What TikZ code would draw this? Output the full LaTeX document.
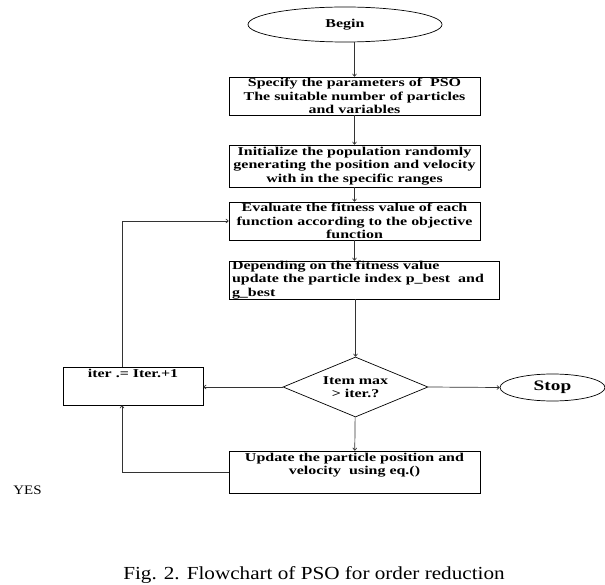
\documentclass[tikz,border=0pt]{standalone}
\usepackage{fontspec}
\setmainfont{Liberation Serif}[FakeStretch=1.33]
\newfontfamily\capfont{Liberation Serif}[FakeStretch=1.15]
\usetikzlibrary{shapes.geometric,arrows.meta}

\begin{document}
\begin{tikzpicture}[x=1pt,y=-1pt,
    every node/.style={font=\bfseries\fontsize{12}{13.3}\selectfont},
    blk/.style={draw,rectangle,line width=0.7pt,inner sep=1pt,align=center},
    term/.style={draw,ellipse,line width=0.7pt,inner sep=0pt},
    cond/.style={draw,diamond,line width=0.7pt,inner sep=0pt,aspect=2.4,align=center},
    conn/.style={draw=black!80,line width=0.7pt,-{To[length=3pt,width=4.5pt]}}]
    \useasboundingbox (0,0) rectangle (605,585);

    % main column
    \node[term,minimum width=194pt,minimum height=35pt] (begin) at (345,24.5) {Begin};
    \node[blk,minimum width=251pt,minimum height=38pt] (spec) at (354.5,96) {Specify the parameters of\ \ PSO\\The suitable number of particles\\and variables};
    \node[blk,minimum width=251pt,minimum height=42pt] (init) at (354.5,166) {Initialize the population randomly\\generating the position and velocity\\with in the specific ranges};
    \node[blk,minimum width=251pt,minimum height=38pt] (eval) at (354.5,221) {Evaluate the fitness value of each\\function according to the objective\\function};
    \node[blk,align=left,text width=264pt,inner xsep=3pt,inner ysep=0pt,minimum height=38pt] (dep) at (364,280) {Depending on the fitness value\\update the particle index p\_best\ \ and\\g\_best};
    \node[cond,minimum width=145pt,minimum height=60pt] (dec) at (355.5,387) {Item max\\> iter.?};
    \node[term,minimum width=105pt,minimum height=27pt,font=\bfseries\fontsize{14.5}{16}\selectfont] (stop) at (552.5,387.5) {Stop};
    \node[blk,minimum width=251pt,minimum height=42pt,label={[anchor=north,inner sep=2pt,align=center]north:{Update the particle position and\\velocity\ \ using eq.()}}] (upd) at (354.5,472) {};

    % loop box
    \node[blk,minimum width=140pt,minimum height=38pt,label={[anchor=north,inner sep=2pt]north:{iter .= Iter.+1}}] (iter) at (133,386) {};

    \node[font=\capfont\fontsize{13}{15}\selectfont] (yes) at (27.5,490) {YES};
    \node[font=\capfont\fontsize{18.4}{20}\selectfont,anchor=base] (cap) at (314,579) {Fig. 2. Flowchart of PSO for order reduction};

    % connectors
    \draw[conn] (spec.north |- begin.south) -- (spec.north);
    \draw[conn] (spec) -- (init);
    \draw[conn] (init) -- (eval);
    \draw[conn] (eval.south) -- (eval.south |- dep.north);
    \draw[conn] (dec.north |- dep.south) -- (dec.north);
    \draw[conn] (dec) -- (upd);
    \draw[conn] (dec.east) -- (stop.west);
    \draw[conn] (dec.west) -- (dec.west -| iter.east);
    \draw[conn] (upd.west) -| ([xshift=-11pt]iter.south);
    \draw[conn] ([xshift=-11pt]iter.north) |- (eval.west);
\end{tikzpicture}
\end{document}
